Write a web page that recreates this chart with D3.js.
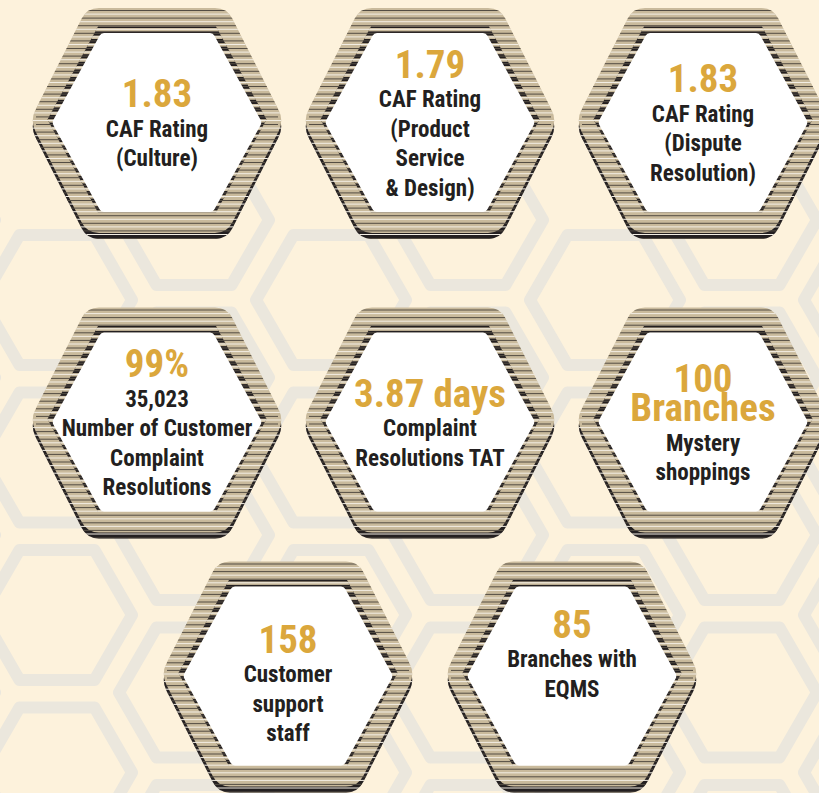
<!DOCTYPE html>
<html>
<head>
<meta charset="utf-8">
<script src="https://cdn.jsdelivr.net/npm/d3@7"></script>
<style>
  body { margin: 0; background: #fdf2dc; }
  svg { display: block; }
</style>
</head>
<body>
<div id="chart"></div>
<script>
// values shown in gold, one entry per hexagon (some span two lines)
var values = [
  ["1.83"], ["1.79"], ["1.83"],
  ["99%"], ["3.87 days"], ["100", "Branches"],
  ["158"], ["85"]
];
// black caption lines under each value
var labels = [
  ["CAF Rating", "(Culture)"],
  ["CAF Rating", "(Product", "Service", "& Design)"],
  ["CAF Rating", "(Dispute", "Resolution)"],
  ["35,023", "Number of Customer", "Complaint", "Resolutions"],
  ["Complaint", "Resolutions TAT"],
  ["Mystery", "shoppings"],
  ["Customer", "support", "staff"],
  ["Branches with", "EQMS"]
];
// how many hexagons sit in each row
var rowSizes = [3, 3, 2];

function hexPts(cx, cy, hw, hh, top) {
  return [[cx - top, cy - hh], [cx + top, cy - hh], [cx + hw, cy],
          [cx + top, cy + hh], [cx - top, cy + hh], [cx - hw, cy]];
}
function roundedPath(pts, r) {
  var n = pts.length, p = d3.path();
  function toward(a, b, d) {
    var dx = b[0] - a[0], dy = b[1] - a[1], l = Math.sqrt(dx * dx + dy * dy);
    return [a[0] + dx * d / l, a[1] + dy * d / l];
  }
  for (var i = 0; i < n; i++) {
    var v = pts[i], prev = pts[(i + n - 1) % n], next = pts[(i + 1) % n];
    var s = toward(v, prev, r), e = toward(v, next, r);
    if (i === 0) p.moveTo(s[0], s[1]); else p.lineTo(s[0], s[1]);
    p.quadraticCurveTo(v[0], v[1], e[0], e[1]);
  }
  p.closePath();
  return p.toString();
}

function mapfunction(selector) {
  var width = 819, height = 793;
  d3.select(selector).html(null);

  var svg = d3.select(selector).append("svg")
    .attr("width", width).attr("height", height)
    .attr("viewBox", "0 0 " + width + " " + height);
  var defs = svg.append("defs");

  svg.append("rect").attr("width", width).attr("height", height).attr("fill", "#fdf2dc");

  // honeycomb in the background (starts below the first row)
  var bg = svg.append("g").attr("class", "honeycomb");
  var cells = [];
  d3.range(-1, 7).forEach(function(k) {
    d3.range(0, 5).forEach(function(j) {
      var x = 57 + 137 * k, y = (k % 2 === 0 ? 300 : 220) + 157.5 * j;
      if (y < height + 80) cells.push([x, y]);
    });
  });
  bg.selectAll("path").data(cells).enter().append("path")
    .attr("d", function(d) { return "M" + hexPts(d[0], d[1], 75, 65, 37.5).join("L") + "Z"; })
    .attr("fill", "none")
    .attr("stroke", "#ebe7dd")
    .attr("stroke-width", 12)
    .attr("stroke-linejoin", "round");

  // layout of the cards
  var rowY = [120.5, 420, 674];
  var nudge = [0, 0, 0, 0, 0, 0, 7, -23];
  var cards = [];
  var idx = 0;
  rowSizes.forEach(function(n, r) {
    var x = d3.scalePoint().domain(d3.range(n)).range(n === 3 ? [157, 703] : [288, 572]);
    d3.range(n).forEach(function(c) {
      cards.push({i: idx, cx: x(c), cy: rowY[r], value: values[idx], label: labels[idx]});
      idx++;
    });
  });

  var font = "'Liberation Sans Narrow','Arial Narrow','Roboto Condensed','DejaVu Sans Condensed',sans-serif";
  var lineH = 29.5;

  cards.forEach(function(d) {
    var g = svg.append("g").attr("class", "card card" + d.i);
    var outer = roundedPath(hexPts(d.cx, d.cy, 127, 112.5, 70), 12);
    var shadow = roundedPath(hexPts(d.cx, d.cy + 6, 127, 112.5, 70), 12);
    var innerBlack = "M" + hexPts(d.cx, d.cy - 1, 109.5, 93, 59).join("L") + "Z";
    var innerWhite = roundedPath(hexPts(d.cx, d.cy + 2, 105, 89.5, 56), 3);

    var clipId = "frame" + d.i, clipB = "blk" + d.i;
    var cp = defs.append("clipPath").attr("id", clipId);
    cp.append("path").attr("d", outer);
    cp.append("path").attr("d", shadow);
    defs.append("clipPath").attr("id", clipB).append("path").attr("d", innerBlack);

    g.append("path").attr("d", shadow).attr("fill", "#231f20");
    g.append("path").attr("d", outer).attr("fill", "#c9ba9c");
    g.append("path").attr("d", innerBlack).attr("fill", "#231f20");

    var ys = d3.range(d.cy - 112.5 + 2, d.cy + 120, 7.6);
    // tan gaps breaking the dark rim into dashes
    g.append("g").attr("clip-path", "url(#" + clipB + ")")
      .selectAll("rect").data(ys).enter().append("rect")
      .attr("x", d.cx - 130).attr("width", 260)
      .attr("y", function(y) { return y + 2.8; }).attr("height", 3.4)
      .attr("fill", "#c9ba9c");

    var st = g.append("g").attr("clip-path", "url(#" + clipId + ")");
    st.selectAll(".dk").data(ys).enter().append("rect").attr("class", "dk")
      .attr("x", d.cx - 121).attr("width", 242)
      .attr("y", function(y) { return y; }).attr("height", 1)
      .attr("fill", "#544d43");
    st.selectAll(".lt").data(ys).enter().append("rect").attr("class", "lt")
      .attr("x", d.cx - 130).attr("width", 260)
      .attr("y", function(y) { return y + 3.6; }).attr("height", 1)
      .attr("fill", "#f3eee4");

    g.append("path").attr("d", innerWhite).attr("fill", "#ffffff");

    var lines = d.value.map(function(t) { return {t: t, gold: true}; })
      .concat(d.label.map(function(t) { return {t: t, gold: false}; }));
    var c = d.cy + 2 + nudge[d.i];
    var first = c + 14 - (lines.length - 1) * lineH / 2;
    g.selectAll("text").data(lines).enter().append("text")
      .attr("x", d.cx)
      .attr("y", function(l, k) { return first + k * lineH; })
      .attr("text-anchor", "middle")
      .attr("font-family", font)
      .attr("font-weight", "bold")
      .attr("font-size", function(l) { return l.gold ? 39 : 23; })
      .attr("fill", function(l) { return l.gold ? "#dba73c" : "#231f20"; })
      .text(function(l) { return l.t; });
  });
}

mapfunction("#chart");
</script>
</body>
</html>
